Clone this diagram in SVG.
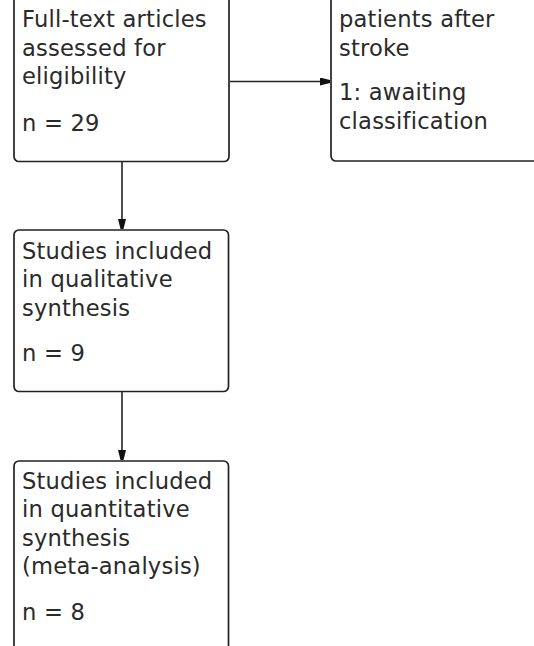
<svg xmlns="http://www.w3.org/2000/svg" width="534" height="646" viewBox="0 0 534 646">
<style>
.box{fill:#fff;stroke:#222;stroke-width:1.7}
.t{font-family:"DejaVu Sans",Verdana,sans-serif;font-size:22.6px;letter-spacing:0.2px;fill:#2a2a2a}
.c{stroke:#222;stroke-width:1.6;fill:none}
</style>
<defs>
<marker id="ah" viewBox="0 0 10 8" refX="10" refY="4" markerWidth="10" markerHeight="8" markerUnits="userSpaceOnUse" orient="auto">
<path d="M0,0 L10,2.5 L10,5.5 L0,8 Z" fill="#111"/>
</marker>
</defs>
<rect width="534" height="646" fill="#fff"/>
<g id="connectors">
<line class="c" x1="230" y1="81.5" x2="330" y2="81.5" marker-end="url(#ah)"/>
<line class="c" x1="122" y1="162" x2="122" y2="229" marker-end="url(#ah)"/>
<line class="c" x1="122" y1="392" x2="122" y2="460" marker-end="url(#ah)"/>
</g>
<g id="fulltext">
<rect class="box" x="14" y="-20" width="215" height="181.5" rx="5"/>
<text class="t" x="22" y="27">Full-text articles</text>
<text class="t" x="22" y="55.5">assessed for</text>
<text class="t" x="22" y="84">eligibility</text>
<text class="t" x="22" y="130.5">n = 29</text>
</g>
<g id="excluded">
<rect class="box" x="331" y="-20" width="230" height="181" rx="5"/>
<text class="t" x="339" y="27">patients after</text>
<text class="t" x="339" y="55.5">stroke</text>
<text class="t" x="339" y="100">1: awaiting</text>
<text class="t" x="339" y="128.5">classification</text>
</g>
<g id="qualitative">
<rect class="box" x="14" y="230" width="214.5" height="161.5" rx="5"/>
<text class="t" x="22" y="258.5">Studies included</text>
<text class="t" x="22" y="287">in qualitative</text>
<text class="t" x="22" y="315.5">synthesis</text>
<text class="t" x="22" y="361">n = 9</text>
</g>
<g id="quantitative">
<rect class="box" x="14" y="461" width="214.5" height="220" rx="5"/>
<text class="t" x="22" y="488.5">Studies included</text>
<text class="t" x="22" y="517">in quantitative</text>
<text class="t" x="22" y="545.5">synthesis</text>
<text class="t" x="22" y="574">(meta-analysis)</text>
<text class="t" x="22" y="619.5">n = 8</text>
</g>
</svg>
